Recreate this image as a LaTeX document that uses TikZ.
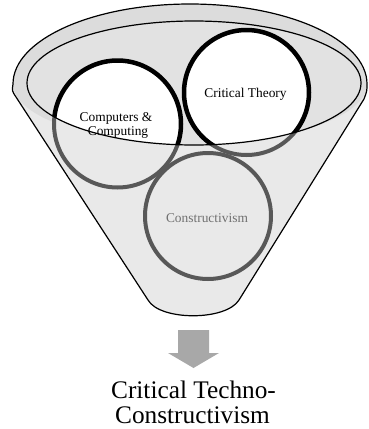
\documentclass[tikz,border=0pt]{standalone}
\usepackage{fontspec}
\setmainfont{Liberation Serif}
\definecolor{bodyg}{HTML}{E9E9E9}
\definecolor{ringg}{HTML}{DCDCDC}
\definecolor{innerg}{HTML}{E2E2E2}
\definecolor{outg}{HTML}{585858}
\definecolor{arrg}{HTML}{A8A8A8}
\definecolor{ctext}{HTML}{707070}
\begin{document}
\begin{tikzpicture}[x=1pt,y=-1pt,
  small/.style={font=\fontsize{13.4}{14}\selectfont, inner sep=0pt, anchor=base},
  big/.style={font=\fontsize{25.3}{25}\selectfont, inner sep=0pt, anchor=base},
  thin/.style={line width=1.2pt}]
\useasboundingbox (0,0) rectangle (368,429);
\def\funnel{(13,84) arc[start angle=180, end angle=360, x radius=177, y radius=80]
  .. controls (367,91) .. (364,99) -- (239,300) .. controls (226,321) and (160,321) .. (148,300)
  -- (16,97) .. controls (12,91) .. cycle}
% funnel body
\fill[bodyg] \funnel;
\fill[ringg] (13,84) arc[start angle=180, end angle=360, x radius=177, y radius=80]
  arc[start angle=0, end angle=180, x radius=177, y radius=60] -- cycle;
\fill[innerg] (194,83) ellipse[x radius=167, y radius=62];
% circles inside the opening
\begin{scope}
  \clip (194,83) ellipse[x radius=167, y radius=62];
  \fill[white] (117.5,124) circle[radius=63.5];
  \fill[white] (246.5,92.5) circle[radius=62.5];
  \fill[white] (208,216) circle[radius=63];
  \draw[line width=4.5pt] (117.5,124) circle[radius=63.5];
  \draw[line width=4.5pt] (246.5,92.5) circle[radius=62.5];
  \draw[line width=4.5pt] (208,216) circle[radius=63];
\end{scope}
% circles outside the opening
\begin{scope}[even odd rule]
  \clip (-10,-10) rectangle (380,440) (194,83) ellipse[x radius=167, y radius=62];
  \fill[bodyg] (117.5,124) circle[radius=63.5];
  \fill[bodyg] (246.5,92.5) circle[radius=62.5];
  \fill[bodyg] (208,216) circle[radius=63];
  \draw[outg, line width=4pt] (117.5,124) circle[radius=63.5];
  \draw[outg, line width=4pt] (246.5,92.5) circle[radius=62.5];
  \draw[outg, line width=4pt] (208,216) circle[radius=63];
\end{scope}
% texts
\node[small] (cc1) at (116,121) {Computers \&};
\node[small] (cc2) at (118,135) {Computing};
\node[small] (ct) at (245.5,97) {Critical Theory};
\node[small, text=ctext] (cons) at (207,222) {Constructivism};
% outlines
\draw[thin] (194,83) ellipse[x radius=167, y radius=62];
\draw[thin] \funnel;
% arrow
\fill[arrg] (178,330) -- (209,330) -- (209,353) -- (219,353) -- (193.5,368)
  -- (168,353) -- (178,353) -- cycle;
\node[big] (res1) at (193.5,398) {Critical Techno-};
\node[big] (res2) at (192.5,423) {Constructivism};
\end{tikzpicture}
\end{document}
